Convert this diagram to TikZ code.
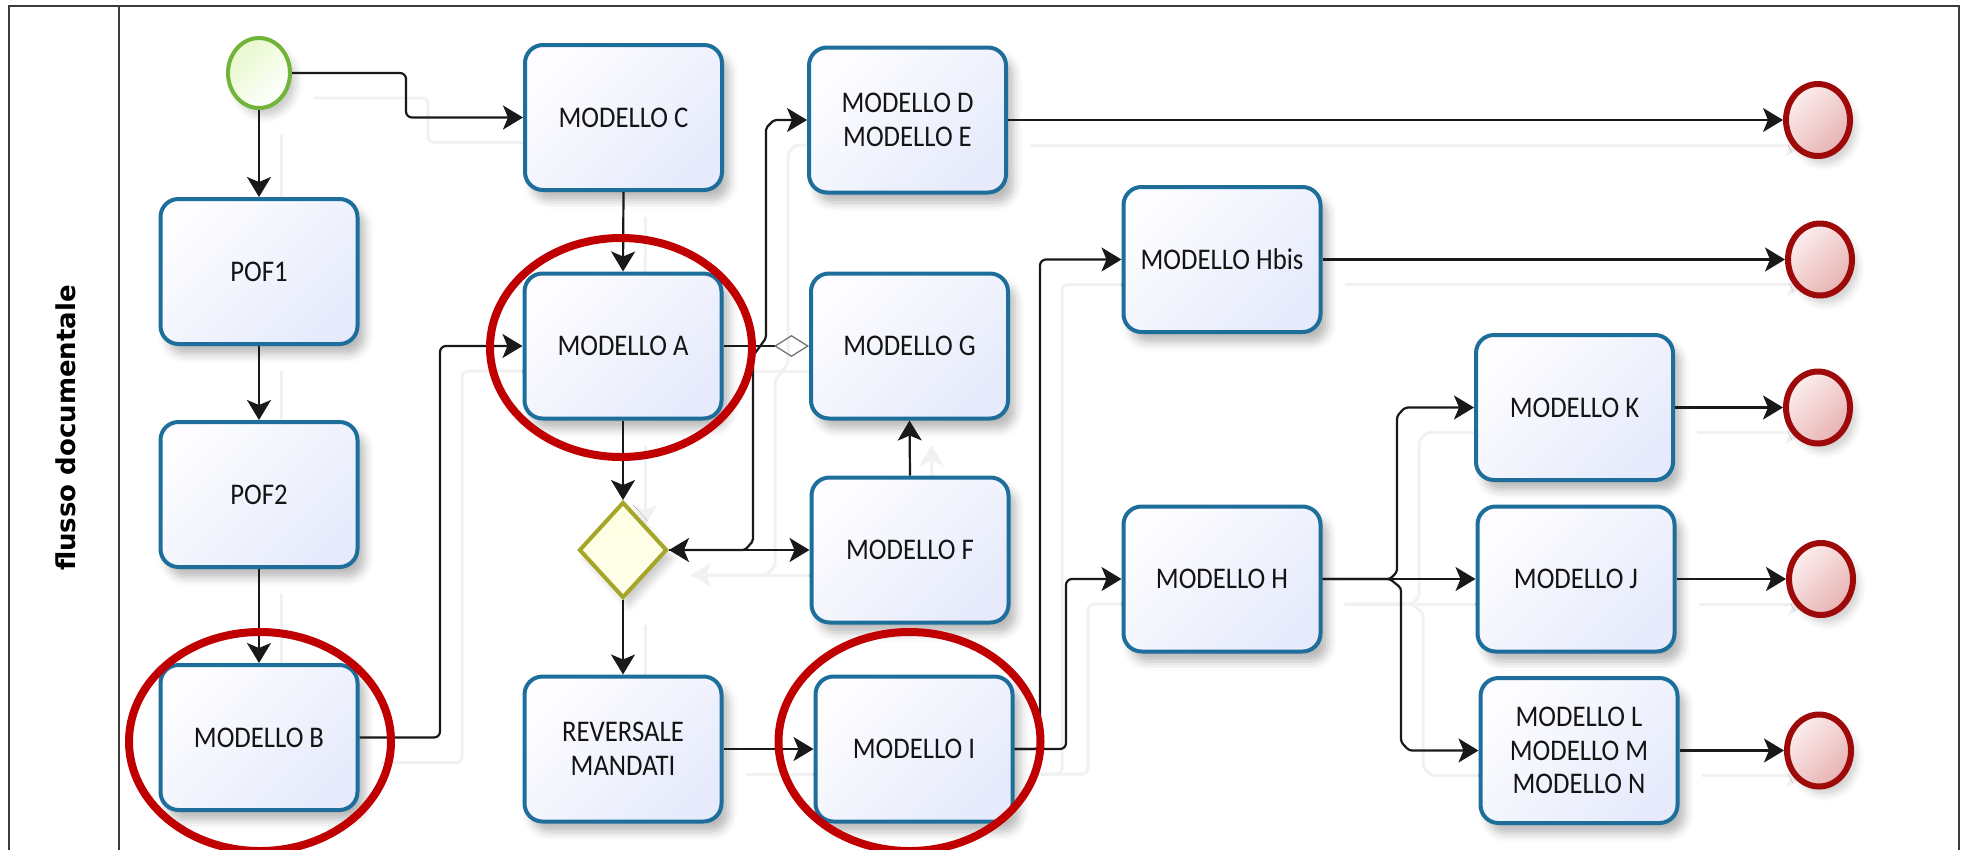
\documentclass[tikz,border=0pt]{standalone}
\usepackage{fontspec}
\setmainfont{Carlito}[FakeStretch=0.89]
\newfontfamily\lanefont{DejaVu Sans}
\usetikzlibrary{arrows.meta, shapes.geometric, shadows.blur}

\pgfdeclarelayer{background}
\pgfsetlayers{background,main}

\definecolor{boxblue}{RGB}{30,110,155}
\definecolor{boxfillA}{RGB}{253,253,255}
\definecolor{boxfillB}{RGB}{230,234,251}
\definecolor{startgreen}{RGB}{112,180,58}
\definecolor{startfill}{RGB}{232,248,204}
\definecolor{endred}{RGB}{158,10,10}
\definecolor{endfillA}{RGB}{252,238,238}
\definecolor{endfillB}{RGB}{232,178,178}
\definecolor{gwolive}{RGB}{165,165,40}
\definecolor{gwfill}{RGB}{254,254,226}
\definecolor{markred}{RGB}{192,0,0}
\definecolor{flowgray}{RGB}{25,25,25}
\definecolor{ghost}{RGB}{241,241,241}
\definecolor{framegray}{RGB}{60,60,60}

\tikzset{
  >={Stealth[length=20pt, width=24pt, inset=5pt]},
  task/.style={rectangle, rounded corners=18pt, draw=boxblue, line width=4pt,
    minimum width=197pt, minimum height=145pt, inner sep=0pt, align=center,
    top color=boxfillA, bottom color=boxfillB, shading angle=45,
    font=\fontsize{30}{33.5}\selectfont, text=black!92,
    blur shadow={shadow xshift=7pt, shadow yshift=-10pt, shadow blur radius=9pt, shadow opacity=28}},
  startev/.style={ellipse, draw=startgreen, line width=4pt, minimum width=62pt,
    minimum height=70pt, inner sep=0pt, top color=startfill, bottom color=white, shading angle=45,
    blur shadow={shadow xshift=6pt, shadow yshift=-8pt, shadow blur radius=7pt, shadow opacity=20}},
  endev/.style={ellipse, draw=endred, line width=6pt, minimum width=64pt,
    minimum height=72pt, inner sep=0pt, top color=endfillA, bottom color=endfillB, shading angle=45,
    blur shadow={shadow xshift=6pt, shadow yshift=-8pt, shadow blur radius=7pt, shadow opacity=18}},
  gateway/.style={diamond, draw=gwolive, line width=4pt, minimum width=88pt,
    minimum height=96pt, inner sep=0pt, top color=gwfill, bottom color=gwfill!70!white,
    blur shadow={shadow xshift=6pt, shadow yshift=-8pt, shadow blur radius=7pt, shadow opacity=20}},
  flow/.style={draw=flowgray, line width=2.2pt, ->, rounded corners=6pt},
  assoc/.style={draw=flowgray, line width=2.2pt,
    -{Diamond[open, length=35pt, width=22pt, line width=1.3pt, color=black!55]}},
  hilite/.style={draw=markred, line width=8pt},
  frame/.style={draw=framegray, line width=2.2pt},
}

% all connectors; drawn twice: once as faint offset shadows, once for real
\newcommand{\connectors}{%
  \draw[flow] (start.east) -- (406,73) -- (406,117.5) -- (mC.west);
  \draw[flow] (start.south) -- (pof1.north);
  \draw[flow] (pof1.south) -- (pof2.north);
  \draw[flow] (pof2.south) -- (mB.north);
  \draw[flow] (mB.east) -- (440,737.5) -- (440,346) -- (mA.west);
  \draw[flow] (mC.south) -- (mA.north);
  \draw[flow] (mA.south) -- (gw.north);
  \draw[flow] (gw.south) -- (rev.north);
  \draw[assoc] (mA.east) -- (mG.west);
  \draw[flow, <->, rounded corners=2pt] (gw.east) -- (745,550) -- (753,541) -- (753,356)
    -- (766,338) -- (766,128) -- (774,120) -- (mDE.west);
  \draw[flow] (gw.east) -- (mF.west);
  \draw[flow] (mF.north) -- (mG.south);
  \draw[flow] (rev.east) -- (mI.west);
  \draw[flow] (mI.east) -- (1040,749) -- (1040,259.5) -- (mHb.west);
  \draw[flow] (mI.east) -- (1066,749) -- (1066,579) -- (mH.west);
  \draw[flow] (mH.east) -- (mJ.west);
  \draw[flow, rounded corners=3pt] (mH.east) -- (1390,579) -- (1397,572) -- (1397,416)
    -- (1405,407.5) -- (mK.west);
  \draw[flow, rounded corners=3pt] (mH.east) -- (1390,579) -- (1401,588) -- (1401,742)
    -- (1409,750.5) -- (mLMN.west);
  \draw[flow] (mDE.east) -- (e1.west);
  \draw[flow] (mHb.east) -- (e2.west);
  \draw[flow] (mK.east) -- (e3.west);
  \draw[flow] (mJ.east) -- (e4.west);
  \draw[flow] (mLMN.east) -- (e5.west);
}

\begin{document}
\begin{tikzpicture}[x=1pt, y=-1pt]
\useasboundingbox (0,0) rectangle (1964,849);
\clip (0,0) rectangle (1964,849);

% pool frame and lane header
\draw[frame] (9,860) -- (9,6) -- (1959,6) -- (1959,860);
\draw[frame] (119,6) -- (119,860);
\node[rotate=90, font=\lanefont\bfseries\fontsize{26}{30}\selectfont] (lane) at (66,428) {flusso documentale};

% events, gateway and tasks
\node[startev] (start) at (259,73) {};
\node[task] (pof1) at (259,271.5) {POF1};
\node[task] (pof2) at (259,494.5) {POF2};
\node[task] (mB) at (259,737.5) {MODELLO B};
\node[task] (mC) at (623.5,117.5) {MODELLO C};
\node[task] (mA) at (623,346) {MODELLO A};
\node[gateway] (gw) at (623,550) {};
\node[task] (rev) at (623,749) {REVERSALE\\MANDATI};
\node[task] (mDE) at (907.5,120) {MODELLO D\\MODELLO E};
\node[task] (mG) at (909.5,346) {MODELLO G};
\node[task] (mF) at (910,550) {MODELLO F};
\node[task] (mI) at (914,749) {MODELLO I};
\node[task] (mHb) at (1222,259.5) {MODELLO Hbis};
\node[task] (mH) at (1222,579) {MODELLO H};
\node[task] (mK) at (1574.5,407.5) {MODELLO K};
\node[task] (mJ) at (1576,579) {MODELLO J};
\node[task] (mLMN) at (1579,750.5) {MODELLO L\\MODELLO M\\MODELLO N};
\node[endev] (e1) at (1818,120) {};
\node[endev] (e2) at (1820,259.5) {};
\node[endev] (e3) at (1818,407.5) {};
\node[endev] (e4) at (1821,579) {};
\node[endev] (e5) at (1819,750.5) {};

% faint connector shadows behind everything
\begin{pgfonlayer}{background}
  \begin{scope}[transform canvas={shift={(22pt,-25pt)}},
      flow/.style={draw=ghost, line width=3pt, ->, rounded corners=6pt},
      assoc/.style={draw=ghost, line width=3pt}]
    \connectors
  \end{scope}
\end{pgfonlayer}

% sequence flows
\connectors

% red highlight rings
\draw[hilite] (621,347.5) ellipse [x radius=131pt, y radius=109.5pt];
\draw[hilite] (260,741.5) ellipse [x radius=131pt, y radius=109.5pt];
\draw[hilite] (909.5,741.5) ellipse [x radius=131pt, y radius=109.5pt];
\end{tikzpicture}
\end{document}
